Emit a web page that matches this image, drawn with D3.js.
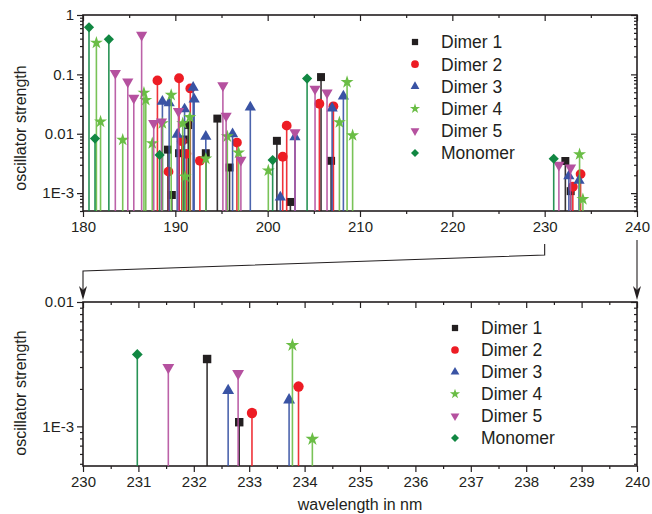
<!DOCTYPE html>
<html>
<head>
<meta charset="utf-8">
<script src="https://cdn.jsdelivr.net/npm/d3@7"></script>
<style>
  body { margin: 0; background: #fff; }
  svg { display: block; font-family: "Liberation Sans", Arial, sans-serif; }
</style>
</head>
<body>
<svg width="652" height="514"></svg>
<script>
// series: wavelength (nm) and oscillator strength
const seriesNames = ["Dimer 1", "Dimer 2", "Dimer 3", "Dimer 4", "Dimer 5", "Monomer"];
const seriesColors = ["#231f20", "#ed1c24", "#3953a4", "#6abd45", "#b5519f", "#118742"];

const dimer1X = [189.2, 189.62, 190.4, 190.9, 191.4, 193.3, 194.55, 195.87, 201.0, 202.46, 205.78, 206.87, 232.24, 232.82];
const dimer1Y = [0.0054, 0.00093, 0.0047, 0.008, 0.014, 0.0047, 0.018, 0.0027, 0.0076, 0.00071, 0.090, 0.0035, 0.00348, 0.00108];

const dimer2X = [188.06, 189.26, 190.4, 190.7, 191.2, 191.62, 192.66, 196.67, 201.63, 202.06, 205.6, 207.12, 233.05, 233.89];
const dimer2Y = [0.079, 0.0023, 0.086, 0.0075, 0.0046, 0.058, 0.0035, 0.0071, 0.0041, 0.0137, 0.032, 0.029, 0.00128, 0.00209];

const dimer3X = [188.6, 189.33, 190.2, 191.0, 191.93, 192.04, 193.3, 196.2, 198.12, 201.37, 202.96, 206.98, 208.2, 232.62, 233.72];
const dimer3Y = [0.035, 0.033, 0.0097, 0.026, 0.060, 0.038, 0.009, 0.0099, 0.028, 0.00085, 0.0088, 0.027, 0.043, 0.00194, 0.00163];

const dimer4X = [181.45, 181.9, 184.3, 186.6, 186.8, 187.5, 188.6, 189.55, 190.8, 191.07, 191.57, 193.3, 195.63, 196.85, 200.07, 207.77, 208.6, 209.2, 233.78, 234.14];
const dimer4Y = [0.34, 0.016, 0.0079, 0.049, 0.037, 0.0069, 0.015, 0.045, 0.015, 0.0019, 0.019, 0.0038, 0.009, 0.0048, 0.0024, 0.0156, 0.074, 0.0094, 0.0045, 0.00079];

const dimer5X = [183.5, 184.85, 185.5, 186.35, 187.66, 188.5, 190.34, 195.15, 195.5, 197.1, 202.96, 205.13, 206.43, 231.54, 232.80];
const dimer5Y = [0.105, 0.075, 0.040, 0.46, 0.015, 0.016, 0.024, 0.065, 0.020, 0.0036, 0.0105, 0.057, 0.049, 0.00298, 0.00267];

const monomerX = [180.65, 181.3, 182.8, 188.3, 200.54, 204.27, 230.98];
const monomerY = [0.62, 0.0083, 0.39, 0.0044, 0.0036, 0.085, 0.00379];

// tick labels
const topXTicks = [180, 190, 200, 210, 220, 230, 240];
const topYTicks = [1, 0.1, 0.01, 0.001];
const bottomXTicks = [230, 231, 232, 233, 234, 235, 236, 237, 238, 239, 240];
const bottomYTicks = [0.01, 0.001];
const yTickText = { 1: "1", 0.1: "0.1", 0.01: "0.01", 0.001: "1E-3" };

const seriesX = [dimer1X, dimer2X, dimer3X, dimer4X, dimer5X, monomerX];
const seriesY = [dimer1Y, dimer2Y, dimer3Y, dimer4Y, dimer5Y, monomerY];

const svg = d3.select("svg");
const ink = "#231f20";

// marker shapes
function markerPath(i, s) {
    if (i === 0) return d3.symbol(d3.symbolSquare, 49 * s)();
    if (i === 1) return d3.symbol(d3.symbolCircle, 58 * s)();
    if (i === 2 || i === 4) return d3.symbol(d3.symbolTriangle, 42 * s)();
    if (i === 3) return d3.symbol(d3.symbolStar, 40 * s)();
    return d3.symbol(d3.symbolSquare, 40 * s)();
}
function markerRotate(i) {
    if (i === 4) return " rotate(180)";
    if (i === 5) return " rotate(45)";
    return "";
}

function drawPanel(p) {
    const x = d3.scaleLinear().domain(p.xDomain).range([p.left, p.right]);
    const y = d3.scaleLog().domain(p.yDomain).range([p.bottom, p.top]);
    const g = svg.append("g");

    // minor ticks
    const xMinor = [];
    for (let i = 0; i < p.xTicks.length - 1; i++) xMinor.push((p.xTicks[i] + p.xTicks[i + 1]) / 2);
    const yMinor = [];
    for (let e = -4; e <= 0; e++) {
        for (let k = 2; k <= 9; k++) {
            const v = k * Math.pow(10, e);
            if (v >= p.yDomain[0] && v <= p.yDomain[1]) yMinor.push(v);
        }
    }

    const none = () => "";
    // axes: bottom/left ticks out, top/right ticks in
    const axes = [
        [d3.axisBottom(x).tickValues(p.xTicks).tickSize(6).tickPadding(4).tickFormat(d => d), `translate(0,${p.bottom})`],
        [d3.axisBottom(x).tickValues(xMinor).tickSize(3).tickFormat(none), `translate(0,${p.bottom})`],
        [d3.axisTop(x).tickValues(p.xTicks).tickSize(-6).tickFormat(none), `translate(0,${p.top})`],
        [d3.axisTop(x).tickValues(xMinor).tickSize(-3).tickFormat(none), `translate(0,${p.top})`],
        [d3.axisLeft(y).tickValues(p.yTicks).tickSize(6).tickPadding(3).tickFormat(d => yTickText[d]), `translate(${p.left},0)`],
        [d3.axisLeft(y).tickValues(yMinor).tickSize(3).tickFormat(none), `translate(${p.left},0)`],
        [d3.axisRight(y).tickValues(p.yTicks).tickSize(-6).tickFormat(none), `translate(${p.right},0)`],
        [d3.axisRight(y).tickValues(yMinor).tickSize(-3).tickFormat(none), `translate(${p.right},0)`]
    ];
    axes.forEach(a => {
        const ax = g.append("g").attr("transform", a[1])
            .call(a[0].tickSizeOuter(0));
        ax.select(".domain").remove();
        ax.selectAll(".tick line").attr("stroke", ink).attr("stroke-width", 1.2);
        ax.selectAll("text").attr("font-size", 15).attr("fill", ink)
            .attr("font-family", "Liberation Sans, Arial, sans-serif");
    });

    // frame
    g.append("rect")
        .attr("x", p.left).attr("y", p.top)
        .attr("width", p.right - p.left).attr("height", p.bottom - p.top)
        .attr("fill", "none").attr("stroke", ink).attr("stroke-width", 1.6);

    // stems and markers
    const data = g.append("g");
    seriesNames.forEach((name, si) => {
        const pts = seriesX[si].map((wx, k) => ({ x: wx, v: seriesY[si][k] }))
            .filter(d => d.x >= p.xDomain[0] && d.x <= p.xDomain[1]);
        const sg = data.append("g");
        sg.selectAll("line").data(pts).enter().append("line")
            .attr("x1", d => x(d.x)).attr("x2", d => x(d.x))
            .attr("y1", d => y(d.v)).attr("y2", p.bottom)
            .attr("stroke", seriesColors[si]).attr("stroke-width", 1.6)
            .attr("stroke-opacity", 0.9);
        sg.selectAll("path").data(pts).enter().append("path")
            .attr("d", markerPath(si, p.markerScale))
            .attr("transform", d => `translate(${x(d.x)},${y(d.v)})` + markerRotate(si))
            .attr("fill", seriesColors[si]);
    });

    // legend
    const lg = g.append("g");
    seriesNames.forEach((name, si) => {
        const ly = p.legendY + si * p.legendStep;
        lg.append("path")
            .attr("d", markerPath(si, 0.8))
            .attr("transform", `translate(${p.legendX},${ly})` + markerRotate(si))
            .attr("fill", seriesColors[si]);
        lg.append("text")
            .attr("x", p.legendX + 26).attr("y", ly)
            .attr("dy", "0.36em")
            .attr("font-size", 17.5).attr("fill", ink)
            .text(name);
    });

    // y title
    g.append("text")
        .attr("transform", `translate(${p.titleX},${p.titleY}) rotate(-90)`)
        .attr("text-anchor", "middle").attr("dy", "0.35em")
        .attr("font-size", 16).attr("fill", ink)
        .text("oscillator strength");

    return { x, y };
}

const topPanel = drawPanel({
    xDomain: [180, 240], yDomain: [5e-4, 1],
    left: 83, right: 637, top: 15, bottom: 211,
    xTicks: topXTicks, yTicks: topYTicks,
    markerScale: 1.3,
    legendX: 415, legendY: 42, legendStep: 22.2,
    titleX: 20, titleY: 128
});

const bottomPanel = drawPanel({
    xDomain: [230, 240], yDomain: [4.8e-4, 0.01],
    left: 83, right: 637, top: 302, bottom: 466,
    xTicks: bottomXTicks, yTicks: bottomYTicks,
    markerScale: 1.45,
    legendX: 455, legendY: 328, legendStep: 22,
    titleX: 20, titleY: 393
});

// x title
svg.append("text")
    .attr("x", 360).attr("y", 510)
    .attr("text-anchor", "middle")
    .attr("font-size", 16).attr("fill", ink)
    .text("wavelength in nm");

// zoom connector arrows (230 -> left, 240 -> right)
const x230 = topPanel.x(230), x240 = topPanel.x(240);
const lx = bottomPanel.x(230), rx = bottomPanel.x(240);
svg.append("path")
    .attr("d", `M${x230},244 V255 L${lx},271 V292`)
    .attr("fill", "none").attr("stroke", ink).attr("stroke-width", 1.1);
svg.append("path")
    .attr("d", `M${x240},240 V292`)
    .attr("fill", "none").attr("stroke", ink).attr("stroke-width", 1.1);
[lx, rx].forEach(ax => {
    svg.append("path")
        .attr("d", `M${ax},300 L${ax - 4},286 L${ax},290 L${ax + 4},286 Z`)
        .attr("fill", ink);
});
</script>
</body>
</html>
